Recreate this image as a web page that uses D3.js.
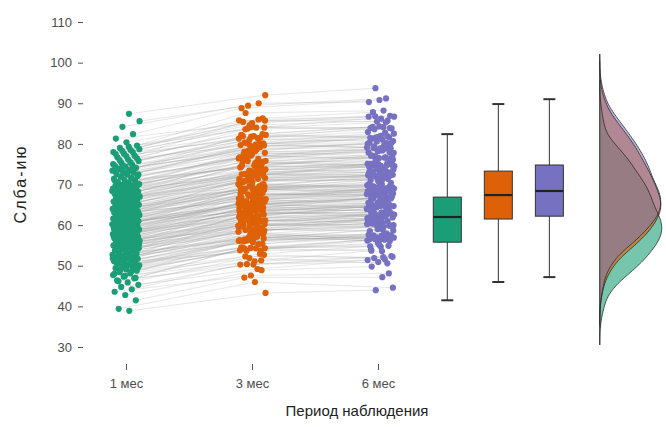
<!DOCTYPE html>
<html>
<head>
<meta charset="utf-8">
<script src="https://cdn.jsdelivr.net/npm/d3@7/dist/d3.min.js"></script>
<style>
  body { margin: 0; background: #fff; }
  svg { display: block; }
  text { font-family: "Liberation Sans", Arial, sans-serif; }
</style>
</head>
<body>
<svg id="chart" width="666" height="427"></svg>
<script>
// ---- data -------------------------------------------------------------
const periods = ["1 мес", "3 мес", "6 мес"];
const groupColors = ["#1b9e77", "#de6107", "#7771c1"];
const yTicks = [30, 40, 50, 60, 70, 80, 90, 100, 110];

// per-subject scores, same subject order in all three arrays
const month1 = [
  38.9, 39.4, 41.5, 42.8, 43.6, 44.2, 44.8,
  45.3, 45.9, 46.4, 46.9, 47.3, 47.7, 48.1, 48.4, 48.8, 49.1, 49.4, 49.7, 49.9,
  50.1, 50.3, 50.5, 50.7, 50.9, 51.1, 51.3, 51.5, 51.7, 51.9, 52.1, 52.3, 52.5,
  52.7, 52.9, 53.1, 53.3, 53.5, 53.7, 53.9, 54.1, 54.3, 54.5, 54.7, 54.8, 54.9,
  55.0, 55.1, 55.3, 55.4, 55.5, 55.7, 55.8, 55.9, 56.1, 56.2, 56.3, 56.5, 56.6,
  56.7, 56.9, 57.0, 57.1, 57.3, 57.4, 57.5, 57.7, 57.8, 57.9, 58.1, 58.2, 58.3,
  58.5, 58.6, 58.7, 58.9, 59.0, 59.1, 59.2, 59.3, 59.4, 59.5, 59.6, 59.7, 59.8, 59.9,
  60.0, 60.1, 60.2, 60.3, 60.4, 60.5, 60.6, 60.7, 60.8, 60.9, 61.0, 61.1, 61.2,
  61.3, 61.4, 61.6, 61.7, 61.8, 61.9, 62.0, 62.1, 62.2, 62.4, 62.5, 62.6, 62.7,
  62.8, 62.9, 63.1, 63.2, 63.3, 63.4, 63.5, 63.7, 63.8, 63.9, 64.0, 64.1, 64.3,
  64.4, 64.5, 64.6, 64.8, 64.9,
  65.0, 65.2, 65.3, 65.5, 65.6, 65.8, 65.9, 66.1, 66.2, 66.4, 66.5, 66.7, 66.8,
  67.0, 67.1, 67.3, 67.4, 67.6, 67.7, 67.9, 68.0, 68.2, 68.3, 68.5, 68.7, 68.8,
  69.0, 69.1, 69.3, 69.4, 69.6, 69.7, 69.8, 69.9,
  70.1, 70.4, 70.6, 70.9, 71.1, 71.4, 71.6, 71.9, 72.1, 72.4, 72.6, 72.9, 73.1,
  73.4, 73.6, 73.9, 74.1, 74.4, 74.6, 74.9,
  75.3, 75.8, 76.2, 76.7, 77.1, 77.6, 78.0, 78.5, 79.0, 79.6,
  80.4, 81.3, 82.4, 84.2, 85.6, 87.4,
  46.2, 47.0, 47.5, 48.0, 48.6, 49.2, 49.6, 50.0, 50.6, 51.0, 51.4, 51.8, 52.2,
  52.6, 53.0, 53.4, 53.8, 54.2, 54.6, 55.2, 55.6, 56.0, 56.4, 56.8, 57.2, 57.6,
  58.0, 58.4,
  66.0, 66.6, 67.2, 67.8, 68.4, 69.0, 69.5, 70.0, 70.5, 71.0, 71.5, 72.0, 72.5,
  73.0, 73.5, 74.0, 74.5, 75.0, 75.5, 76.0, 76.5, 77.0, 77.5, 78.0, 78.3, 78.7,
  79.3, 63.0, 61.5, 60.5, 59.0, 64.2
];
const month3 = [
  43.3, 46.0, 47.1, 48.9, 47.6, 50.3, 49.2,
  50.4, 52.7, 50.3, 54.3, 52.9, 51.9, 56.1, 54.3, 52.3, 55.4, 57.1, 54.5, 55.3,
  56.3, 54.3, 57.6, 56.0, 53.7, 57.7, 56.3, 59.8, 56.2, 57.9, 55.8, 59.6, 58.0,
  57.0, 59.8, 58.9, 56.5, 61.1, 58.6, 60.3, 59.3, 62.9, 58.6, 60.4, 61.6, 58.8,
  59.7, 62.0, 60.5, 58.8, 63.3, 61.3, 59.9, 62.2, 65.0, 61.2, 58.9, 63.0, 61.0,
  63.8, 62.8, 60.8, 63.8, 62.6, 66.6, 62.1, 63.8, 60.9, 65.3, 63.5, 63.0, 64.9,
  61.4, 66.8, 64.4, 63.1, 65.8, 64.2, 62.8, 66.3, 64.9, 63.5, 68.0, 65.7, 64.3, 65.7,
  65.3, 67.3, 64.1, 66.4, 65.0, 69.0, 66.4, 63.4, 67.7, 65.9, 65.3, 68.7, 67.4,
  64.8, 66.9, 69.6, 66.5, 68.2, 64.9, 67.9, 69.4, 66.7, 69.1, 67.6, 71.6, 66.4,
  68.4, 69.2, 67.1, 71.1, 68.5, 65.9, 70.1, 68.6, 70.8, 69.6, 67.3, 70.1, 73.0,
  68.8, 69.9, 71.4, 68.6, 71.4,
  71.0, 69.4, 72.8, 70.6, 69.2, 72.6, 71.3, 74.2, 70.9, 72.6, 69.4, 72.5, 73.9,
  71.5, 73.7, 72.3, 70.8, 75.3, 73.3, 74.2, 72.1, 77.0, 73.5, 72.4, 75.6, 74.3,
  73.4, 76.4, 75.4, 72.6, 75.5, 77.5, 74.4, 76.3,
  75.8, 77.8, 74.6, 77.4, 74.4, 79.6, 76.7, 78.7, 76.7, 80.1, 77.9, 76.7, 80.0,
  78.4, 82.2, 78.2, 80.3, 79.9, 81.8, 79.7,
  81.4, 80.2, 84.0, 81.9, 85.4, 81.5, 84.6, 85.8, 84.0, 87.6,
  86.3, 85.1, 88.8, 90.0, 89.4, 92.0,
  51.1, 54.3, 51.3, 54.4, 53.8, 57.2, 53.7, 56.7, 56.1, 54.4, 59.0, 56.8, 58.4,
  57.1, 61.3, 59.2, 57.7, 61.1, 59.7, 62.4, 60.2, 62.0, 60.0, 64.6, 62.6, 64.1,
  62.3, 64.1,
  72.3, 70.6, 74.7, 73.0, 72.1, 75.8, 75.1, 78.1, 74.9, 77.1, 76.5, 79.4, 76.0,
  79.6, 78.8, 81.9, 79.2, 81.0, 81.3, 79.9, 83.6, 82.4, 84.2, 82.2, 86.0, 83.8,
  85.7, 68.9, 68.5, 65.3, 65.2, 69.7
];
const month6 = [
  44.0, 44.6, 47.2, 49.8, 48.1, 50.9, 51.4,
  51.6, 51.9, 52.4, 54.7, 54.8, 50.6, 57.0, 56.9, 52.1, 56.9, 56.1, 55.2, 57.6,
  57.1, 56.5, 57.0, 57.4, 54.0, 56.6, 59.0, 60.3, 58.0, 57.5, 56.9, 61.6, 56.5,
  57.9, 61.4, 58.7, 58.9, 61.7, 59.9, 59.4, 61.2, 63.1, 61.4, 59.7, 62.6, 60.5,
  61.0, 61.5, 62.6, 59.5, 62.1, 63.2, 60.3, 64.7, 64.2, 62.2, 61.9, 63.1, 62.6,
  63.5, 65.0, 61.7, 62.4, 64.1, 66.6, 64.7, 64.4, 62.7, 64.4, 64.7, 65.4, 64.8,
  64.6, 67.3, 65.5, 62.5, 67.5, 67.1, 63.1, 65.3, 66.3, 65.5, 67.6, 66.5, 66.6, 66.7,
  65.9, 69.6, 63.4, 67.9, 67.8, 67.9, 67.3, 65.1, 67.5, 68.3, 66.4, 67.8, 67.7,
  66.8, 68.3, 69.1, 69.2, 69.0, 66.8, 66.6, 69.6, 68.9, 70.1, 67.2, 72.1, 69.3,
  70.0, 68.4, 69.2, 71.1, 69.8, 69.0, 69.5, 70.4, 71.2, 72.1, 68.5, 69.1, 73.7,
  71.4, 69.6, 72.9, 70.6, 72.3,
  72.4, 68.8, 75.0, 71.4, 71.1, 71.4, 73.9, 74.5, 72.0, 72.3, 72.2, 73.1, 73.0,
  73.2, 76.0, 72.4, 72.3, 74.6, 75.3, 75.1, 75.1, 76.6, 74.7, 74.9, 74.6, 75.0,
  75.2, 76.6, 77.8, 73.9, 75.0, 77.9, 76.5, 77.9,
  76.7, 77.0, 76.9, 78.6, 77.1, 79.1, 78.3, 79.1, 79.6, 79.0, 78.9, 78.9, 80.3,
  80.2, 81.6, 80.7, 81.0, 81.3, 81.6, 81.7,
  82.9, 82.8, 83.6, 83.8, 86.2, 83.9, 85.7, 85.5, 86.7, 88.2,
  87.8, 86.9, 90.8, 90.3, 91.2, 93.7,
  52.2, 53.6, 53.7, 54.9, 55.6, 56.2, 56.4, 56.9, 57.5, 56.5, 58.5, 57.7, 60.0,
  60.0, 60.5, 60.4, 60.0, 61.1, 61.6, 62.1, 62.8, 62.7, 61.5, 63.4, 64.8, 64.5,
  64.0, 64.9,
  73.1, 72.6, 74.1, 74.3, 74.6, 75.4, 76.1, 78.4, 77.1, 76.2, 78.2, 80.0, 78.8,
  79.4, 80.2, 82.0, 81.5, 81.9, 80.6, 82.5, 84.1, 84.2, 83.9, 84.3, 86.7, 85.3,
  86.8, 68.4, 70.9, 66.5, 65.2, 71.6
];

// box-plot summaries per period
const boxLow    = [41.5, 46.0, 47.2];
const boxQ1     = [55.8, 61.5, 62.2];
const boxMedian = [62.0, 67.4, 68.4];
const boxQ3     = [66.9, 73.3, 74.8];
const boxHigh   = [82.4, 89.8, 91.0];

// ---- layout -----------------------------------------------------------
const series = [month1, month3, month6];
const svg = d3.select("#chart");

const x = d3.scaleLinear().domain([1, 3]).range([126, 378]);
const y = d3.scaleLinear().domain([30, 110]).range([347, 22]);

const jitterWidth = 0.11;
const groupOffset = [0.0, 0.37, 0.71];
const groupShift = [0.0, 0.0, 0.02];
// deterministic spread of points around each period position
const jitter = (i, g) => (((i + 1) * 0.6180339887 + groupOffset[g]) % 1 - 0.5) * 2 * jitterWidth + groupShift[g];
const px = (i, g) => x(g + 1 + jitter(i, g));

const boxPos = [3.55, 3.955, 4.36];
const densityBase = 4.76;

// ---- connecting lines per subject ------------------------------------
const line = d3.line().x(d => d[0]).y(d => d[1]);
svg.append("g")
  .selectAll("path")
  .data(month1.map((_, i) => i))
  .join("path")
  .attr("d", i => line(series.map((s, g) => [px(i, g), y(s[i])])))
  .attr("fill", "none")
  .attr("stroke", "#a0a0a0")
  .attr("stroke-opacity", 0.36)
  .attr("stroke-width", 0.7);

// ---- jittered points ---------------------------------------------------
series.forEach((s, g) => {
  svg.append("g")
    .selectAll("circle")
    .data(s)
    .join("circle")
    .attr("cx", (d, i) => px(i, g))
    .attr("cy", d => y(d))
    .attr("r", 3.1)
    .attr("fill", groupColors[g]);
});

// ---- box plots ---------------------------------------------------------
const boxHalf = 14, capHalf = 6;
const boxes = svg.append("g");
periods.forEach((p, g) => {
  const cx = x(boxPos[g]);
  const b = boxes.append("g").attr("stroke", "#333").attr("stroke-width", 1);
  b.append("line").attr("x1", cx).attr("x2", cx).attr("y1", y(boxQ3[g])).attr("y2", y(boxHigh[g]));
  b.append("line").attr("x1", cx).attr("x2", cx).attr("y1", y(boxQ1[g])).attr("y2", y(boxLow[g]));
  b.append("line").attr("x1", cx - capHalf).attr("x2", cx + capHalf).attr("y1", y(boxHigh[g])).attr("y2", y(boxHigh[g])).attr("stroke-width", 2);
  b.append("line").attr("x1", cx - capHalf).attr("x2", cx + capHalf).attr("y1", y(boxLow[g])).attr("y2", y(boxLow[g])).attr("stroke-width", 2);
  b.append("rect")
    .attr("x", cx - boxHalf).attr("width", boxHalf * 2)
    .attr("y", y(boxQ3[g])).attr("height", y(boxQ1[g]) - y(boxQ3[g]))
    .attr("fill", groupColors[g]);
  b.append("line").attr("x1", cx - boxHalf).attr("x2", cx + boxHalf)
    .attr("y1", y(boxMedian[g])).attr("y2", y(boxMedian[g]))
    .attr("stroke", "#222").attr("stroke-width", 2.2);
});

// ---- half densities ----------------------------------------------------
const bw = 2.8;
function kde(values) {
  const lo = d3.min(values) - 3 * bw, hi = d3.max(values) + 3 * bw;
  const pts = d3.range(lo, hi + 0.001, (hi - lo) / 160);
  const norm = 1 / (values.length * bw * Math.sqrt(2 * Math.PI));
  return pts.map(v => [v, norm * d3.sum(values, u => Math.exp(-0.5 * ((v - u) / bw) ** 2))]);
}
const dens = series.map(kde);
const dMax = d3.max(dens, d => d3.max(d, e => e[1]));
const base = x(densityBase);
const w = d3.scaleLinear().domain([0, dMax]).range([0, 62]);
const area = d3.area().curve(d3.curveBasis)
  .y(d => y(d[0])).x0(base).x1(d => base + w(d[1]));
const edge = d3.line().curve(d3.curveBasis)
  .y(d => y(d[0])).x(d => base + w(d[1]));
const densityOpacity = [0.6, 0.62, 0.5];
const dg = svg.append("g");
dens.forEach((d, g) => {
  dg.append("path").attr("d", area(d)).attr("fill", groupColors[g]).attr("fill-opacity", densityOpacity[g]);
});
dens.forEach(d => {
  dg.append("path").attr("d", edge(d)).attr("fill", "none").attr("stroke", "#2a2a2a").attr("stroke-width", 0.8);
});
const allLo = d3.min(dens, d => d[0][0]), allHi = d3.max(dens, d => d[d.length - 1][0]);
dg.append("line").attr("x1", base).attr("x2", base)
  .attr("y1", y(allHi)).attr("y2", y(allLo))
  .attr("stroke", "#2a2a2a").attr("stroke-width", 1);

// ---- axes --------------------------------------------------------------
const yAxis = svg.append("g").attr("transform", "translate(83,0)")
  .call(d3.axisLeft(y).tickValues(yTicks).tickSize(5).tickPadding(6));
yAxis.select(".domain").remove();
yAxis.selectAll("line").attr("stroke", "#555");
yAxis.selectAll("text").attr("fill", "#4d4d4d").style("font-size", "13px")
  .style("font-family", "'Liberation Sans', Arial, sans-serif");

const xAxis = svg.append("g").attr("transform", "translate(0,364)")
  .call(d3.axisBottom(x).tickValues([1, 2, 3]).tickFormat((d, i) => periods[i]).tickSize(6).tickPadding(9));
xAxis.select(".domain").remove();
xAxis.selectAll("line").attr("stroke", "#555");
xAxis.selectAll("text").attr("fill", "#4d4d4d").style("font-size", "13px")
  .style("font-family", "'Liberation Sans', Arial, sans-serif");

svg.append("text")
  .attr("x", 357).attr("y", 416)
  .attr("text-anchor", "middle")
  .attr("fill", "#222")
  .style("font-size", "15px")
  .text("Период наблюдения");

svg.append("text")
  .attr("transform", "translate(26,184) rotate(-90)")
  .attr("text-anchor", "middle")
  .attr("fill", "#222")
  .style("font-size", "16px")
  .style("letter-spacing", "2px")
  .text("Слба-ию");
</script>
</body>
</html>
